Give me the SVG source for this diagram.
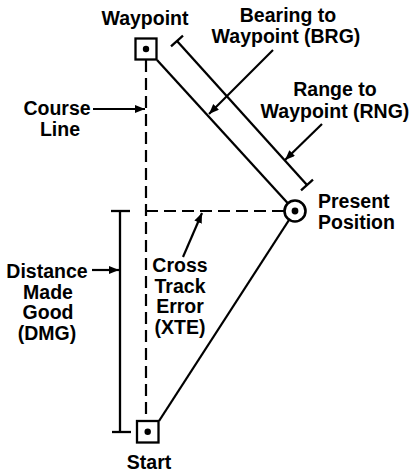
<svg xmlns="http://www.w3.org/2000/svg" width="416" height="472" viewBox="0 0 416 472">
<style>
text{font-family:"Liberation Sans",Arial,Helvetica,sans-serif;font-weight:bold;font-size:19.5px;fill:#000}
.c{text-anchor:middle}
.ln{stroke:#000;stroke-width:2.3;fill:none}
.ds{stroke:#000;stroke-width:2.2;fill:none;stroke-dasharray:12 6}
.ar{stroke:#000;stroke-width:2.2;fill:none;marker-end:url(#ah)}
</style>
<defs>
<marker id="ah" markerUnits="userSpaceOnUse" markerWidth="12" markerHeight="10" refX="10" refY="4" orient="auto">
<path d="M0,0 L10,4 L0,8 Z" fill="#000"/>
</marker>
</defs>
<rect width="416" height="472" fill="#fff"/>
<g id="connectors">
<line class="ds" x1="146" y1="60" x2="146" y2="420"/>
<line class="ds" x1="146" y1="211" x2="284" y2="211"/>
<line class="ln" x1="157" y1="60" x2="287.6" y2="203"/>
<line class="ln" x1="159" y1="421" x2="289" y2="220"/>
<line class="ln" x1="177" y1="41" x2="307" y2="185"/>
<line class="ln" x1="171" y1="46.4" x2="183" y2="35.6"/>
<line class="ln" x1="301" y1="190.4" x2="313" y2="179.6"/>
<line class="ln" x1="120" y1="211" x2="120" y2="432"/>
<line class="ln" x1="111" y1="211" x2="130" y2="211"/>
<line class="ln" x1="112" y1="432" x2="131" y2="432"/>
<line class="ar" x1="273" y1="50" x2="209" y2="114"/>
<line class="ar" x1="322" y1="124" x2="285" y2="160"/>
<line class="ar" x1="93" y1="109" x2="145" y2="109"/>
<line class="ar" x1="92" y1="270" x2="119" y2="270"/>
<line class="ar" x1="183" y1="257" x2="202" y2="213"/>
</g>
<g id="waypoint">
<rect x="135.5" y="38.5" width="21" height="21" fill="#fff" stroke="#000" stroke-width="2.3"/>
<circle cx="146" cy="49" r="3.2" fill="#000"/>
<text class="c" x="145" y="25">Waypoint</text>
</g>
<g id="start">
<rect x="137" y="421" width="21.5" height="21.5" fill="#fff" stroke="#000" stroke-width="2.3"/>
<circle cx="147.7" cy="431.7" r="3.2" fill="#000"/>
<text class="c" x="149" y="469">Start</text>
</g>
<g id="present-position">
<circle cx="295" cy="211" r="10.5" fill="#fff" stroke="#000" stroke-width="2.6"/>
<circle cx="295" cy="211" r="3.4" fill="#000"/>
<text x="318" y="208">Present</text>
<text x="318" y="229">Position</text>
</g>
<g id="bearing-label">
<text class="c" x="288" y="22">Bearing to</text>
<text class="c" x="286" y="43">Waypoint (BRG)</text>
</g>
<g id="range-label">
<text class="c" x="335" y="96">Range to</text>
<text class="c" x="335" y="118">Waypoint (RNG)</text>
</g>
<g id="course-line-label">
<text class="c" x="57" y="115">Course</text>
<text class="c" x="60" y="136">Line</text>
</g>
<g id="dmg-label">
<text class="c" x="47" y="278">Distance</text>
<text class="c" x="48" y="299">Made</text>
<text class="c" x="48" y="319">Good</text>
<text class="c" x="47" y="340">(DMG)</text>
</g>
<g id="xte-label">
<text class="c" x="180" y="272">Cross</text>
<text class="c" x="180" y="293">Track</text>
<text class="c" x="180" y="313">Error</text>
<text class="c" x="180" y="334">(XTE)</text>
</g>
</svg>
